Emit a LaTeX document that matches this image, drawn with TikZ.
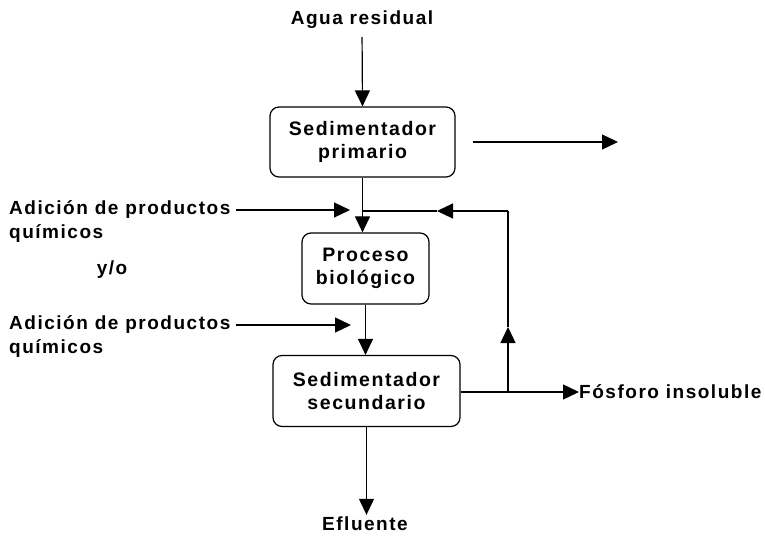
\documentclass[tikz,border=0pt]{standalone}
\usepackage{fontspec}
\setmainfont{Liberation Sans}[LetterSpace=8]
\usetikzlibrary{arrows.meta}
\begin{document}
\begin{tikzpicture}[x=1pt,y=-1pt,
  txt/.style={font=\bfseries\fontsize{19}{23}\selectfont, inner sep=0pt},
  proc/.style={txt, font=\bfseries\fontsize{19.5}{23}\selectfont, draw, rounded corners=9pt, line width=1.2pt, align=center},
  arr/.style={-{Triangle[length=16pt,width=15pt]}, line width=1.2pt},
  ln/.style={line width=1.2pt}]
\useasboundingbox (0,0) rectangle (765,537);
% boxes
\node[proc, minimum width=185pt, minimum height=70pt] (b1) at (362.5,142) {Sedimentador\\primario};
\node[proc, minimum width=127pt, minimum height=71pt] (b2) at (365.5,268.5) {Proceso\\biológico};
\node[proc, minimum width=187pt, minimum height=71pt] (b3) at (366.5,391) {Sedimentador\\secundario};
% labels
\node[txt] (agua) at (362,20) {Agua residual};
\node[txt, anchor=west] (a1) at (9,210) {Adición de productos};
\node[txt, anchor=west] (q1) at (9,234) {químicos};
\node[txt] (yo) at (112,270) {y/o};
\node[txt, anchor=west] (a2) at (9,325) {Adición de productos};
\node[txt, anchor=west] (q2) at (9,349) {químicos};
\node[txt] (eff) at (365,524) {Efluente};
\node[txt, anchor=west] (fos) at (579,392) {Fósforo insoluble};
% coordinates
\coordinate (r1) at (618,142);
\coordinate (c1) at (350,210);
\coordinate (c2) at (351,325);
\coordinate (fb) at (508,392);
\coordinate (fbu) at (508,327);
\coordinate (fbt) at (508,211);
\coordinate (fbl) at (437,211);
\coordinate (m1) at (363,211);
% connectors
\draw[arr, shorten <=8pt] (agua.south) -- (b1.north);
\draw[arr] (b1.south) -- (b1.south |- b2.north);
\draw[arr] (b2.south) -- (b2.south |- b3.north);
\draw[arr, shorten >=2pt] (b3.south) -- (b3.south |- eff.north) ;
\draw[arr, shorten <=17pt] (b1.east) -- (r1);
\draw[arr, shorten <=5pt] (a1.east) -- (c1);
\draw[arr, shorten <=5pt] (a2.east) -- (c2);
\draw[arr] (b3.east |- fb) -- (fos.west);
\draw[arr] (fb) -- (fbu);
\draw[ln] (fbu) -- (fbt);
\draw[arr] (fbt) -- (fbl);
\draw[ln] (fbl) -- (m1);
\end{tikzpicture}
\end{document}
